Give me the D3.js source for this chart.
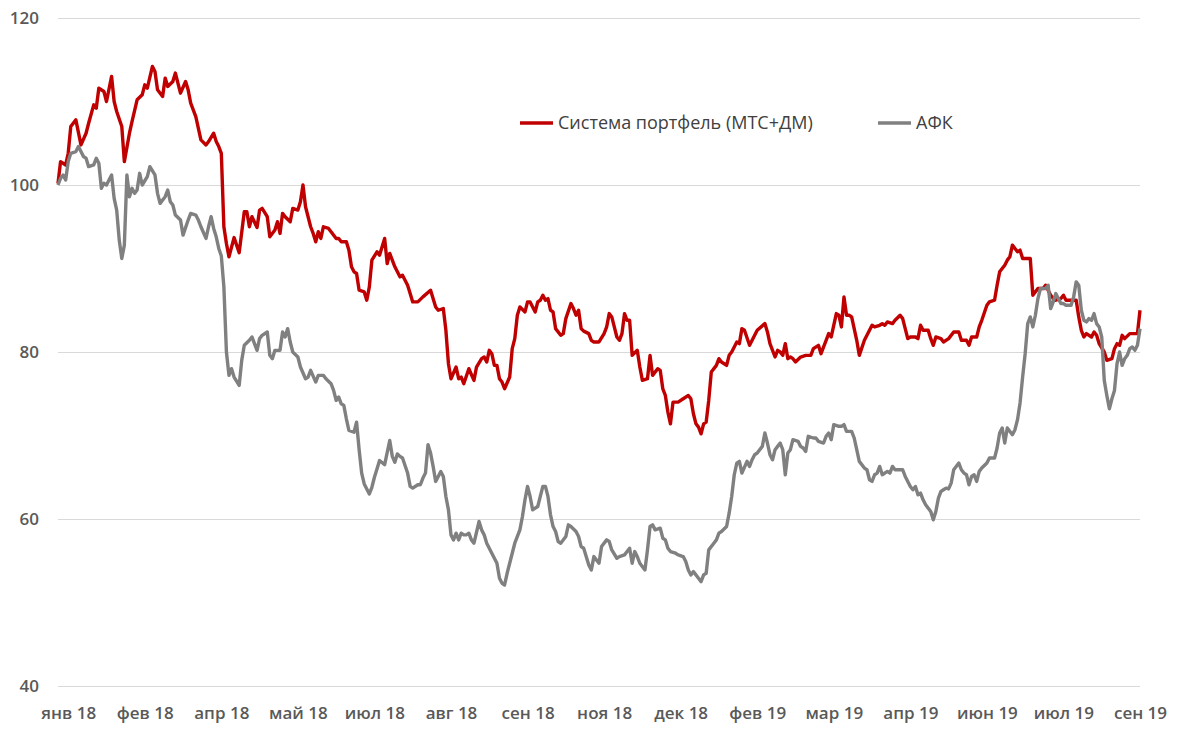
<!DOCTYPE html>
<html>
<head>
<meta charset="utf-8">
<script src="https://cdnjs.cloudflare.com/ajax/libs/d3/7.8.5/d3.min.js"></script>
<style>
	body { margin: 0; background: #fff; }
	.axis text { font-family: "Open Sans", sans-serif; font-size: 17px; font-weight: 600; fill: #595959; }
	.grid line { stroke: #d9d9d9; stroke-width: 1; shape-rendering: crispEdges; }
	.legend-label { font-family: "Open Sans", sans-serif; font-size: 18px; fill: #404040; }
</style>
</head>
<body>
<svg class="chart" width="1182" height="740"></svg>
<script>

// подписи оси X: каждые 30 торговых дней
var monthLabels = ["янв 18", "фев 18", "апр 18", "май 18", "июл 18", "авг 18", "сен 18", "ноя 18",
	"дек 18", "фев 19", "мар 19", "апр 19", "июн 19", "июл 19", "сен 19"];
var labelDays = [4, 34, 64, 94, 124, 154, 184, 214, 244, 274, 304, 334, 364, 394, 424];
var yTicks = [40, 60, 80, 100, 120];

var seriesNames = ["Система портфель (МТС+ДМ)", "АФК"];
var seriesColors = ["#c00000", "#808080"];

// [торговый день, индекс (начало = 100)]
var sistema = [[0,100.2],[1,102.8],[3,102.4],[4,103.8],[5,107],[7,107.8],[9,104.8],[11,106.2],[12,107.4],[14,109.6],[15,109.2],[16,111.6],[18,111.2],[19,110],[21,113],[22,110],[23,108.8],[25,107],[26,102.8],[28,106.2],[29,107.6],[31,110.2],[33,110.8],[34,112],[35,111.6],[37,114.2],[38,113.6],[39,111.4],[41,110.6],[42,112.8],[43,111.8],[45,112.4],[46,113.4],[47,112.2],[48,111],[50,112.4],[51,111.4],[52,109.8],[54,108.2],[56,105.4],[58,104.8],[59,105.2],[61,106.2],[62,105.2],[63,104.6],[64,103.8],[65,95],[66,93],[67,91.4],[69,93.7],[71,91.9],[73,96.8],[74,96.8],[75,95],[76,96.2],[78,94.9],[79,97],[80,97.2],[82,96.2],[83,93.8],[85,94.6],[86,95.6],[87,94.2],[88,96.6],[89,96.2],[91,95.6],[92,97.2],[94,97],[95,98],[96,100],[97,97.4],[99,95],[100,94.2],[101,93.2],[102,94.4],[103,93.6],[104,95],[106,94.8],[107,94.4],[109,93.6],[110,93.6],[111,93.2],[113,93.2],[114,92.2],[115,90.2],[116,89.6],[117,89.4],[118,87.4],[120,87.2],[121,86.2],[122,87.8],[123,91],[125,92],[126,91.6],[128,93.6],[129,90.6],[130,91.8],[131,91],[132,90.2],[134,89],[135,89.2],[137,88],[138,87],[139,86],[141,86],[143,86.6],[146,87.4],[148,85.4],[149,85],[151,85.2],[152,82.6],[153,78.6],[154,76.8],[156,78.2],[157,76.8],[158,77],[159,76.2],[161,78],[163,76.6],[164,78.2],[166,79.2],[167,79.4],[168,78.8],[169,80.2],[170,79.8],[171,78.4],[172,78.4],[173,76.8],[174,76.4],[175,75.6],[177,77],[178,80.4],[179,81.6],[180,84.4],[181,85.4],[183,84.8],[184,86],[185,86],[187,84.8],[188,86],[189,86.2],[190,86.8],[191,86.2],[192,86.4],[193,85],[194,84.8],[195,82.8],[197,82],[198,82.2],[199,84],[201,85.8],[202,85.2],[203,84.4],[204,85],[205,82.8],[206,82.5],[208,82.2],[209,81.4],[210,81.2],[212,81.2],[214,82.2],[215,83],[216,84.6],[217,84.2],[219,81.8],[220,81.4],[221,82.2],[222,84.6],[223,83.8],[224,83.8],[225,79.6],[227,80.2],[228,78.2],[229,76.6],[231,76.8],[232,79.6],[233,77.2],[235,78],[236,77.8],[237,75.6],[238,74.8],[239,72.8],[240,71.4],[241,74],[243,74],[245,74.4],[247,74.8],[248,74.4],[249,72.6],[250,71.4],[251,71],[252,70.2],[253,71.4],[254,71.6],[255,74.2],[256,77.6],[258,78.4],[259,79.2],[260,78.8],[262,78.4],[263,79.6],[264,80],[266,81.2],[267,81],[268,82.8],[269,82.6],[271,80.8],[273,82],[274,82.6],[277,83.4],[278,82.4],[279,81],[281,79.4],[282,80.2],[283,80],[284,79.6],[285,81],[286,79.2],[287,79.4],[288,79.2],[289,78.8],[291,79.4],[293,79.6],[295,79.6],[296,80.4],[298,80.8],[299,79.8],[301,81.4],[302,82.2],[303,81.8],[305,84.6],[306,84.4],[307,83],[308,86.6],[309,84.4],[310,84.4],[311,84.2],[313,81.4],[314,79.6],[316,81.4],[317,82],[319,83.2],[320,83],[322,83.2],[323,83.4],[324,83.2],[325,83.6],[327,83.4],[328,83.8],[330,84.4],[331,84],[333,81.6],[334,81.8],[336,81.8],[337,81.6],[338,83.2],[339,82.6],[341,82.6],[342,81.6],[343,80.8],[344,81.8],[346,81.6],[347,81.2],[349,81.6],[351,82.4],[353,82.4],[354,81.4],[356,81.4],[357,80.8],[358,81.8],[360,81.8],[361,83],[362,83.8],[364,85.6],[365,86],[367,86.2],[368,88],[369,89.6],[371,90.4],[372,91],[373,91.4],[374,92.8],[376,92],[377,92.2],[378,91.2],[380,91.2],[381,91.2],[382,86.8],[384,87.6],[386,87.6],[387,88],[389,86.8],[390,86.4],[391,86.2],[393,86.4],[394,86.8],[395,86.2],[397,86.2],[399,86.2],[400,84.2],[401,82.6],[402,81.8],[403,82.2],[405,81.8],[406,82.4],[407,82],[408,81],[410,80],[411,79],[413,79.2],[414,80.4],[415,81],[416,80.8],[417,82],[418,81.6],[420,82.2],[421,82.2],[423,82.2],[424,85]];

var afk = [[0,100],[1,100.8],[2,101.2],[3,100.6],[4,102.8],[5,103.8],[7,104],[8,104.6],[9,104],[10,103.4],[11,103.2],[12,102.2],[14,102.4],[15,103.2],[16,102.6],[17,99.6],[18,100.2],[19,100],[21,101.2],[22,98.4],[23,97],[24,93.4],[25,91.2],[26,92.8],[27,101.2],[28,98.6],[29,99.6],[30,99],[31,99.4],[32,101.4],[33,100],[35,101],[36,102.2],[38,101.2],[39,99],[40,97.8],[42,98.6],[43,99.4],[44,98],[45,97.6],[46,96.4],[48,95.8],[49,94],[51,95.8],[52,96.6],[54,96.4],[55,95.8],[56,95],[58,93.6],[59,95],[60,96.2],[61,94.8],[62,93.8],[63,92.4],[64,91.5],[65,87.8],[66,80],[67,77.2],[68,78],[69,77],[71,76],[72,79],[73,80.8],[75,81.4],[76,81.8],[78,80.2],[79,81.6],[80,82],[82,82.4],[83,79.6],[84,79.2],[85,80.2],[87,80.2],[88,82.4],[89,81.8],[90,82.8],[91,81.2],[92,80],[94,79.4],[95,78.2],[97,76.8],[98,77],[99,77.8],[101,76.4],[102,77.2],[104,77.2],[105,76.8],[107,76.2],[108,75.4],[109,74.2],[110,74.6],[111,73.8],[112,73.6],[113,72],[114,70.6],[116,70.4],[117,71.6],[118,68.3],[119,65.5],[120,64.2],[122,63],[123,63.8],[124,65],[125,66],[126,67],[128,66.5],[130,69.4],[131,67.5],[132,66.8],[133,67.8],[134,67.5],[135,67.3],[137,65.5],[138,63.9],[139,63.7],[141,64.1],[142,64.1],[143,64.9],[144,65.5],[145,68.9],[146,67.9],[147,66.3],[148,64.5],[149,65.1],[150,65.7],[151,65.1],[152,62.7],[153,61.1],[154,58.1],[155,57.5],[156,58.3],[157,57.5],[158,58.3],[159,58.1],[160,58.1],[161,58.3],[162,57.5],[163,57.1],[165,59.7],[166,58.7],[167,58.1],[168,57.1],[170,55.9],[171,55.3],[172,54.7],[173,52.9],[174,52.3],[175,52.1],[176,53.5],[177,54.7],[178,55.9],[179,57.1],[181,58.7],[182,60.3],[183,62.3],[184,63.9],[185,62.7],[186,61.1],[188,61.5],[189,62.7],[190,63.9],[191,63.9],[192,62.7],[193,60.5],[194,59.1],[195,58.5],[196,57.3],[197,57.1],[199,57.9],[200,59.3],[201,59.1],[203,58.5],[204,57.9],[205,56.7],[206,56.5],[208,54.5],[209,53.9],[210,55.5],[211,55.1],[212,54.7],[213,56.7],[215,57.5],[216,57.3],[217,56.3],[219,55.3],[220,55.5],[222,55.7],[223,56.1],[224,56.5],[225,54.7],[226,56.1],[227,55.5],[228,54.7],[230,53.9],[231,56.3],[232,59.1],[233,59.3],[234,58.7],[236,58.9],[237,57.7],[238,57.5],[239,56.5],[240,56.1],[242,55.9],[243,55.7],[245,55.5],[246,54.9],[247,53.9],[248,53.3],[249,53.7],[251,52.9],[252,52.5],[253,53.3],[254,53.5],[255,56.3],[257,57.1],[258,57.5],[259,58.3],[260,58.5],[262,59.1],[263,60.7],[264,62.7],[265,65.3],[266,66.7],[267,66.9],[268,65.5],[270,66.9],[271,66.3],[272,67.1],[273,67.7],[274,67.9],[276,68.7],[277,70.3],[278,69.1],[279,67.7],[280,67.1],[281,68.3],[282,68.7],[283,69.1],[284,68.3],[285,65.3],[286,67.9],[287,68.3],[288,69.5],[290,69.3],[291,68.7],[292,68.5],[293,68.1],[294,69.9],[296,69.7],[297,69.7],[298,69.3],[300,69.1],[301,69.9],[302,70.3],[303,69.5],[304,71.3],[306,71.1],[307,71.1],[308,71.3],[309,70.5],[311,70.5],[312,69.7],[313,68.3],[314,66.9],[316,66.1],[317,65.9],[318,64.7],[319,64.5],[320,65.3],[321,65.5],[322,66.3],[323,65.3],[325,65.7],[326,65.5],[327,66.3],[328,65.9],[330,65.9],[331,65.9],[332,65.1],[334,63.9],[335,63.5],[336,63.9],[337,62.9],[338,63.1],[339,62.3],[340,61.7],[342,60.9],[343,59.9],[344,60.9],[345,62.5],[346,63.3],[347,63.5],[348,63.7],[349,63.6],[350,64.3],[351,65.9],[353,66.7],[354,65.9],[355,65.5],[356,65.3],[357,64.1],[358,65.1],[359,65.3],[360,64.5],[361,65.7],[362,66.1],[364,66.7],[365,67.3],[367,67.3],[368,68.5],[369,70.3],[370,70.9],[371,69.1],[372,70.9],[374,70.1],[375,70.7],[376,71.9],[377,73.9],[378,77],[379,79.8],[380,83.4],[381,84.2],[382,83],[383,84.4],[384,86.4],[385,87.6],[387,87.6],[388,88],[389,85.2],[390,86],[391,87],[393,85.8],[394,85.8],[395,85.6],[397,85.6],[398,86.6],[399,88.4],[400,88],[401,85],[402,83.8],[403,83.6],[404,84],[405,83.8],[406,84.6],[407,83.4],[408,83],[409,81.8],[410,76.6],[411,74.8],[412,73.2],[413,74.4],[414,75.4],[415,78.6],[416,80],[417,78.4],[418,79.2],[419,79.6],[420,80.4],[421,80.6],[422,80.2],[423,80.8],[424,82.8]];

var margin = {left: 58, right: 42, top: 18, bottom: 54};
var width = 1182 - margin.left - margin.right;
var height = 740 - margin.top - margin.bottom;

var svg = d3.select(".chart");
var g = svg.append("g")
	.attr("transform", "translate(" + margin.left + "," + margin.top + ")");

var x = d3.scaleLinear()
	.domain([0, 424])
	.range([0, width]);
var y = d3.scaleLinear()
	.domain([40, 120])
	.range([height, 0]);

// сетка + подписи по Y
var yAxis = g.append("g")
	.attr("class", "axis grid")
	.call(d3.axisLeft(y)
		.tickValues(yTicks)
		.tickSize(-width)
		.tickPadding(19));
yAxis.select(".domain").remove();

var xAxis = g.append("g")
	.attr("class", "axis")
	.attr("transform", "translate(0," + height + ")")
	.call(d3.axisBottom(x)
		.tickValues(labelDays)
		.tickFormat(function(d, i) { return monthLabels[i]; })
		.tickSize(0)
		.tickPadding(21));
xAxis.select(".domain").remove();

var line = d3.line()
	.x(function(d) { return x(d[0]); })
	.y(function(d) { return y(d[1]); });

[sistema, afk].forEach(function(series, i) {
	g.append("path")
		.datum(series)
		.attr("fill", "none")
		.attr("stroke", seriesColors[i])
		.attr("stroke-width", 3.4)
		.attr("stroke-linejoin", "round")
		.attr("d", line);
});

// легенда
var legendX = [520, 878];
seriesNames.forEach(function(name, i) {
	var item = svg.append("g")
		.attr("transform", "translate(" + legendX[i] + "," + 123 + ")");
	item.append("line")
		.attr("x1", 0)
		.attr("x2", 33)
		.attr("stroke", seriesColors[i])
		.attr("stroke-width", 3.4);
	item.append("text")
		.attr("class", "legend-label")
		.attr("x", 38)
		.attr("y", 6)
		.text(name);
});

</script>
</body>
</html>
